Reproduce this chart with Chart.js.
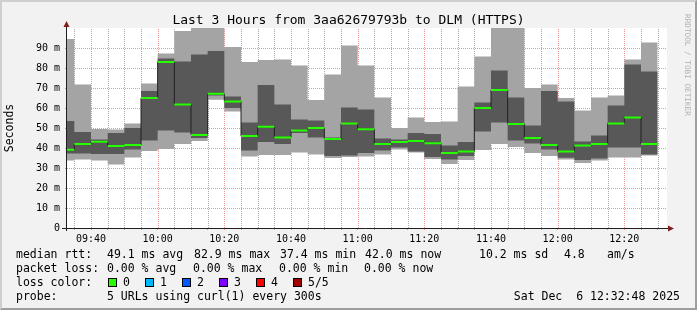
<!DOCTYPE html>
<html>
<head>
<meta charset="utf-8">
<title>Last 3 Hours from 3aa62679793b to DLM (HTTPS)</title>
<script src="https://cdn.jsdelivr.net/npm/chart.js@4.4.1/dist/chart.umd.min.js"></script>
<style>
  html, body { margin: 0; padding: 0; background: #f2f2f2; }
  #wrap { position: relative; width: 697px; height: 310px; overflow: hidden;
          font-family: "DejaVu Sans Mono", monospace; color: #000; }
  #chart { position: absolute; left: 0; top: 0; }
  #frame { position: absolute; left: 0; top: 0; width: 697px; height: 310px; box-sizing: border-box;
           border: 2px solid; border-color: #cfcfcf #9e9e9e #9e9e9e #cfcfcf; pointer-events: none; }
  #title { position: absolute; left: 0; top: 11px; width: 697px; text-align: center;
           font-size: 13px; line-height: 17px; white-space: pre; }
  #mark { position: absolute; left: 683px; top: 14px; writing-mode: vertical-rl;
          font-size: 7.7px; line-height: 8px; color: #b0b0b0; white-space: pre; }
  .t { position: absolute; font-size: 11.5px; line-height: 14px; white-space: pre; }
  .box { position: absolute; top: 278px; width: 7px; height: 7px; border: 1px solid #000; }
</style>
</head>
<body>
<div id="wrap">
  <canvas id="chart" width="697" height="310"></canvas>
  <div id="title">Last 3 Hours from 3aa62679793b to DLM (HTTPS)</div>
  <div id="mark">RRDTOOL / TOBI OETIKER</div>

  <span class="t" style="left:16px;top:247px">median rtt:</span>
  <span class="t" style="left:107px;top:247px">49.1 ms avg</span>
  <span class="t" style="left:194px;top:247px">82.9 ms max</span>
  <span class="t" style="left:280px;top:247px">37.4 ms min</span>
  <span class="t" style="left:365px;top:247px">42.0 ms now</span>
  <span class="t" style="left:479px;top:247px">10.2 ms sd</span>
  <span class="t" style="left:564px;top:247px">4.8</span>
  <span class="t" style="left:607px;top:247px">am/s</span>

  <span class="t" style="left:16px;top:261px">packet loss:</span>
  <span class="t" style="left:107px;top:261px">0.00 % avg</span>
  <span class="t" style="left:193px;top:261px">0.00 % max</span>
  <span class="t" style="left:279px;top:261px">0.00 % min</span>
  <span class="t" style="left:364px;top:261px">0.00 % now</span>

  <span class="t" style="left:16px;top:275px">loss color:</span>
  <span class="box" style="left:108px;background:#26ff00"></span><span class="t" style="left:123px;top:275px">0</span>
  <span class="box" style="left:145px;background:#00b8ff"></span><span class="t" style="left:160px;top:275px">1</span>
  <span class="box" style="left:182px;background:#0059ff"></span><span class="t" style="left:197px;top:275px">2</span>
  <span class="box" style="left:219px;background:#7e00ff"></span><span class="t" style="left:234px;top:275px">3</span>
  <span class="box" style="left:256px;background:#ff0000"></span><span class="t" style="left:271px;top:275px">4</span>
  <span class="box" style="left:293px;background:#a00000"></span><span class="t" style="left:308px;top:275px">5/5</span>

  <span class="t" style="left:16px;top:289px">probe:</span>
  <span class="t" style="left:107px;top:289px">5 URLs using curl(1) every 300s</span>
  <span class="t" style="right:17px;top:289px">Sat Dec  6 12:32:48 2025</span>

  <div id="frame"></div>
</div>
<script>
// 5-minute steps, start of each step
const intervalStart = ['09:30', '09:35', '09:40', '09:45', '09:50', '09:55',
  '10:00', '10:05', '10:10', '10:15', '10:20', '10:25',
  '10:30', '10:35', '10:40', '10:45', '10:50', '10:55',
  '11:00', '11:05', '11:10', '11:15', '11:20', '11:25',
  '11:30', '11:35', '11:40', '11:45', '11:50', '11:55',
  '12:00', '12:05', '12:10', '12:15', '12:20', '12:25'];

// rtt in ms: smoke bands (min..max, 2nd..4th) and median
const rttMax = [94.5, 71.8, 49.5, 49.3, 52.3, 72.3, 87.3, 98.5, 105, 105, 90.5, 83,
  84, 84.3, 81.3, 64, 76.8, 91.3, 81.3, 65.3, 50, 55.3, 53, 53.3,
  70.8, 85.8, 105, 105, 70, 71.8, 65, 58.8, 65.3, 66.3, 84.3, 92.8];
const rttHigh = [53.5, 48, 44.2, 47.5, 50, 68.5, 84.7, 83.3, 86.8, 88.5, 65.8, 52.8,
  71.5, 61.8, 54.3, 53.7, 45.2, 60.3, 59.3, 44.8, 44.3, 47.5, 47, 41.3,
  43, 62.7, 78.8, 65.3, 51.3, 68.5, 63.3, 43.3, 46.3, 61.3, 81.8, 78.3];
const rttMedian = [39.1, 42, 43.1, 41, 41.5, 65, 83, 61.8, 46.5, 67.1, 63.3, 46,
  50.6, 45.3, 48.8, 50, 44.5, 52.3, 49.4, 42, 43, 43.5, 42.4, 37.5,
  38.3, 60, 69, 52, 45, 41.5, 38.3, 41.3, 42, 52.3, 55.3, 42];
const rttLow = [37.2, 37.3, 37, 37, 39.3, 43.8, 48.8, 47.7, 45, 66.3, 60, 38.8,
  43, 42, 47.5, 45.3, 36, 36.3, 37.5, 38.8, 40.2, 38.3, 35.5, 34.3,
  36, 48.3, 52.8, 43.7, 42.3, 39.2, 35.1, 34, 34.8, 40.3, 40.3, 36.8];
const rttMin = [33.8, 34.3, 33.7, 31.8, 35.3, 38.5, 39.5, 42, 43.5, 64.1, 58.3, 35.8,
  36.5, 36.5, 37.8, 36.8, 35, 35.5, 35.8, 36.8, 39.2, 37.8, 34.5, 32,
  34, 39, 42, 40.5, 37.5, 36, 34.2, 32.5, 33.8, 35.3, 35.3, 36.3];

const xTickLabels = ['09:40', '10:00', '10:20', '10:40', '11:00', '11:20', '11:40', '12:00', '12:20'];
const yTickLabels = ['0', '10 m', '20 m', '30 m', '40 m', '50 m', '60 m', '70 m', '80 m', '90 m'];
const viewStart = '09:32:48';
const viewEnd = '12:32:48';
const STEP = 5;

const toMin = s => {
  const [h, m, sec] = s.split(':').map(Number);
  return h * 60 + m + (sec || 0) / 60;
};
const fmt = v => {
  const h = Math.floor(v / 60), m = Math.round(v % 60);
  return String(h).padStart(2, '0') + ':' + String(m).padStart(2, '0');
};

const starts = intervalStart.map(toMin);
const lastEnd = starts[starts.length - 1] + STEP;

// stepped series: value holds from its start until the next start
const stepPoints = vals => vals.map((v, i) => ({ x: starts[i], y: v }))
  .concat([{ x: lastEnd, y: vals[vals.length - 1] }]);
// only the horizontal pieces (for the coloured median)
const flatPieces = vals => vals.flatMap((v, i) => [
  { x: starts[i], y: v }, { x: starts[i] + STEP, y: v }, { x: starts[i] + STEP, y: null }
]);

const MGRID = 'rgba(222,79,79,0.6)';
const GRID = 'rgba(143,143,143,0.75)';
const FONT = 'DejaVu Sans Mono';
const isMajorX = v => v % 20 === 0;
const isMajorY = v => v % 10 === 0;

const canvasBg = {
  id: 'canvasBg',
  beforeDraw(chart) {
    const { ctx, chartArea: a } = chart;
    ctx.save();
    ctx.fillStyle = '#ffffff';
    ctx.fillRect(a.left, a.top, a.right - a.left, a.bottom - a.top);
    ctx.restore();
  }
};

// rrdtool style dotted grid, the smoke areas cover it
const dottedGrid = {
  id: 'dottedGrid',
  beforeDatasetsDraw(chart) {
    const { ctx, chartArea: a, scales: { x, y } } = chart;
    ctx.save();
    ctx.lineWidth = 1;
    ctx.setLineDash([1, 1]);
    x.ticks.forEach(t => {
      const px = Math.round(x.getPixelForValue(t.value)) + 0.5;
      ctx.strokeStyle = isMajorX(t.value) ? MGRID : GRID;
      ctx.beginPath();
      ctx.moveTo(px, a.bottom);
      ctx.lineTo(px, a.top);
      ctx.stroke();
    });
    y.ticks.forEach(t => {
      if (t.value === 0) return;
      const py = Math.round(y.getPixelForValue(t.value)) + 0.5;
      ctx.strokeStyle = isMajorY(t.value) ? MGRID : GRID;
      ctx.beginPath();
      ctx.moveTo(a.left, py);
      ctx.lineTo(a.right, py);
      ctx.stroke();
    });
    ctx.restore();
  }
};

const axesArrows = {
  id: 'axesArrows',
  afterDraw(chart) {
    const { ctx, chartArea: a } = chart;
    const x0 = a.left - 0.5, y0 = a.bottom + 0.5;
    ctx.save();
    ctx.strokeStyle = '#1f1f1f';
    ctx.lineWidth = 1;
    ctx.beginPath();
    ctx.moveTo(a.left - 5, y0);
    ctx.lineTo(a.right + 2, y0);
    ctx.moveTo(x0, a.bottom + 3);
    ctx.lineTo(x0, a.top - 2);
    ctx.stroke();
    ctx.fillStyle = '#801f1f';
    ctx.beginPath();
    ctx.moveTo(a.right + 1, y0 - 3);
    ctx.lineTo(a.right + 7, y0);
    ctx.lineTo(a.right + 1, y0 + 3);
    ctx.closePath();
    ctx.fill();
    ctx.beginPath();
    ctx.moveTo(x0 - 3, a.top - 1);
    ctx.lineTo(x0, a.top - 7);
    ctx.lineTo(x0 + 3, a.top - 1);
    ctx.closePath();
    ctx.fill();
    ctx.restore();
  }
};

const band = (data, color, fill) => ({
  data, stepped: 'before', fill, backgroundColor: color,
  borderWidth: 0, pointRadius: 0, borderColor: 'transparent'
});

new Chart(document.getElementById('chart'), {
  type: 'line',
  data: {
    datasets: [
      { label: 'median', data: flatPieces(rttMedian), borderColor: '#26ff00', borderWidth: 2,
        pointRadius: 0, spanGaps: false, fill: false },
      { label: 'median step', data: stepPoints(rttMedian), stepped: 'before', borderColor: '#202020',
        borderWidth: 1, pointRadius: 0, fill: false },
      band(stepPoints(rttHigh), '#585858', '+1'),
      band(stepPoints(rttLow), 'transparent', false),
      band(stepPoints(rttMax), '#a4a4a4', '+1'),
      band(stepPoints(rttMin), 'transparent', false)
    ]
  },
  options: {
    responsive: false,
    animation: false,
    events: [],
    layout: { padding: { left: 0, top: 28, right: 30, bottom: 0 } },
    plugins: { legend: { display: false }, tooltip: { enabled: false }, title: { display: false } },
    scales: {
      x: {
        type: 'linear',
        min: toMin(viewStart),
        max: toMin(viewEnd),
        afterBuildTicks: s => {
          const t = [];
          for (let v = Math.ceil(s.min / STEP) * STEP; v <= s.max; v += STEP) t.push({ value: v });
          s.ticks = t;
        },
        afterFit: s => { s.height = 82; s.paddingLeft = 0; s.paddingRight = 0; },
        ticks: {
          autoSkip: false, maxRotation: 0, minRotation: 0, padding: 3,
          color: '#000', font: { family: FONT, size: 10 },
          callback: v => xTickLabels.includes(fmt(v)) ? fmt(v) : ''
        },
        grid: {
          drawOnChartArea: false, drawTicks: true, tickLength: 2, tickWidth: 1,
          tickColor: c => (c.tick && isMajorX(c.tick.value)) ? MGRID : GRID
        },
        border: { display: false }
      },
      y: {
        min: 0,
        max: 100,
        afterBuildTicks: s => {
          const t = [];
          for (let v = 0; v < 100; v += 5) t.push({ value: v });
          s.ticks = t;
        },
        afterFit: s => { s.width = 67; s.paddingTop = 0; s.paddingBottom = 0; },
        ticks: {
          padding: 5, color: '#000', font: { family: FONT, size: 10 },
          callback: v => isMajorY(v) ? yTickLabels[v / 10] : ''
        },
        title: {
          display: true, text: 'Seconds', color: '#000',
          font: { family: FONT, size: 11.5 }, padding: { top: 3, bottom: 0 }
        },
        grid: {
          drawOnChartArea: false, drawTicks: true, tickLength: 2, tickWidth: 1,
          tickColor: c => (c.tick && isMajorY(c.tick.value)) ? MGRID : GRID
        },
        border: { display: false }
      }
    }
  },
  plugins: [canvasBg, dottedGrid, axesArrows]
});
</script>
</body>
</html>
